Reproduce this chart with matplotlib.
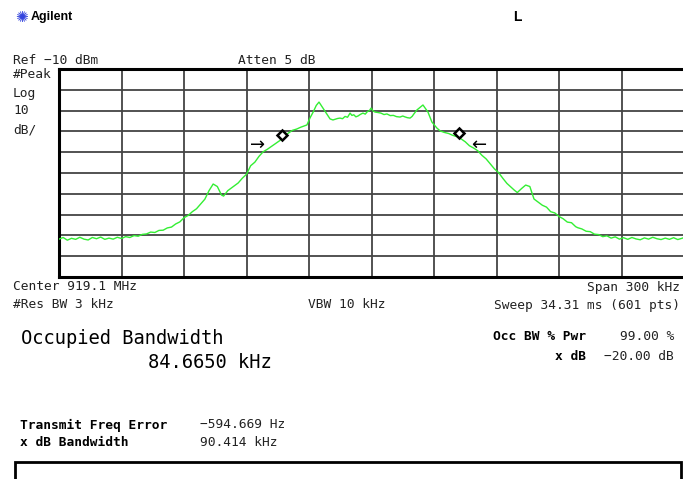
import numpy as np
import matplotlib.pyplot as plt

# analyzer settings
center_mhz = 919.1
span_khz = 300.0
ref_dbm = -10.0
db_per_div = 10.0

# trace: (offset from center in kHz, level in dBm)
trace_pts = [
    (-150, -91.8), (-148, -91.0), (-146, -92.3), (-144, -91.4), (-142, -91.9),
    (-140, -90.9), (-138, -91.8), (-136, -92.2), (-134, -91.0), (-132, -91.6),
    (-130, -90.8), (-128, -91.9), (-126, -91.3), (-124, -91.8), (-122, -90.9),
    (-120, -91.5), (-118, -90.6), (-116, -91.0), (-114, -90.1), (-112, -90.4),
    (-110, -89.5), (-108, -89.3), (-106, -88.4), (-104, -88.6), (-102, -87.6),
    (-100, -87.5), (-98, -86.4), (-96, -86.0), (-94, -84.5), (-92, -83.5),
    (-90, -81.5), (-88, -80.4), (-86, -78.6), (-84, -77.2), (-82, -74.9),
    (-80, -72.6), (-78, -68.5), (-76, -65.3), (-74, -66.5), (-72, -70.6),
    (-71, -71.1), (-69, -68.5), (-67, -67.0), (-66, -66.2), (-64, -64.8),
    (-62, -62.5), (-60, -60.6), (-58, -56.5), (-56, -54.8), (-54, -52.0),
    (-52, -49.8), (-50, -48.6), (-48, -47.2), (-46, -45.8), (-44, -44.4),
    (-42, -41.9), (-40, -40.9), (-38, -39.5), (-36, -38.9), (-34, -38.0),
    (-32, -37.3), (-31, -36.9), (-29.5, -33.5), (-28, -30.7), (-26.5, -27.5),
    (-25.2, -25.9), (-23.3, -28.8), (-21.5, -31.5), (-19.9, -34.0), (-18.5, -34.5),
    (-17.5, -34.2), (-16.3, -33.8), (-15.1, -33.6), (-13.9, -33.9), (-12.7, -32.8),
    (-11.5, -33.2), (-10.3, -31.2), (-9.4, -32.3), (-8.5, -32.0), (-7.5, -33.0),
    (-6.5, -32.6), (-5.3, -31.8), (-4.1, -31.2), (-3, -31.7), (-2, -30.5),
    (-1, -30.0), (-0.2, -28.8), (0.8, -30.2), (1.7, -30.7), (3, -30.9),
    (4.5, -31.2), (6, -31.9), (7.4, -31.6), (9, -32.4), (10.5, -32.3),
    (12, -32.9), (13.7, -33.1), (15, -32.6), (16, -33.0), (17.2, -33.4),
    (18.5, -33.6), (19.5, -32.8), (20.2, -31.8), (21.8, -29.7), (24.7, -27.3),
    (27.1, -30.7), (29, -35.5), (31.4, -38.4), (33, -39.8), (35, -40.5),
    (37, -41.0), (39, -41.9), (41.5, -42.7), (43, -43.6), (45, -45.0),
    (47, -46.9), (49, -48.0), (51, -49.3), (53, -51.5), (55, -53.2),
    (57, -55.6), (59, -58.0), (61, -59.8), (63, -62.5), (65, -65.0),
    (67, -66.8), (68.5, -68.2), (70, -69.4), (72, -67.5), (74, -65.8),
    (76, -66.5), (78, -72.5), (80, -74.0), (82, -75.5), (84, -76.4),
    (86, -78.6), (88, -79.2), (90, -80.9), (92, -82.0), (94, -83.6),
    (96, -83.9), (98, -85.8), (99, -86.3), (101, -86.9), (103, -88.0),
    (105, -88.2), (107, -89.4), (109, -89.6), (111, -90.6), (113, -90.2),
    (115, -91.3), (117, -90.7), (119, -91.8), (121, -91.1), (123, -91.9),
    (125, -91.0), (127, -91.7), (129, -92.1), (131, -91.2), (133, -91.8),
    (135, -90.9), (137, -91.6), (139, -92.0), (141, -91.3), (143, -91.9),
    (145, -91.1), (147, -92.0), (149, -91.4), (150, -91.0),
]

# occupied bandwidth markers and arrows
marker_khz = [-42.9, 41.8]
marker_dbm = [-41.7, -40.9]
arrow_khz = [-54.5, 51.6]
arrow_dbm = [-46.5, -46.5]
arrow_txt = ['\u2192', '\u2190']

mono = 'DejaVu Sans Mono'
W, H = 683, 479
fig = plt.figure(figsize=(W / 100, H / 100), dpi=100)

def fx(px):
    return px / W

def fy(py):
    return 1 - py / H

ax = fig.add_axes([fx(59), fy(277), fx(684) - fx(59), fy(69) - fy(277)])
f0 = center_mhz - span_khz / 2000
f1 = center_mhz + span_khz / 2000
bottom = ref_dbm - 10 * db_per_div
ax.set_xlim(f0, f1)
ax.set_ylim(bottom, ref_dbm)
ax.set_xticks(np.linspace(f0, f1, 11))
ax.set_yticks(np.linspace(bottom, ref_dbm, 11))
ax.tick_params(length=0, labelbottom=False, labelleft=False)
ax.grid(True, color='#444444', lw=1.3)
ax.set_axisbelow(True)
for s in ['top', 'left', 'bottom']:
    ax.spines[s].set_linewidth(2.2)
ax.spines['right'].set_visible(False)

khz = np.array([p[0] for p in trace_pts])
dbm = np.array([p[1] for p in trace_pts])
ax.plot(center_mhz + khz / 1000, dbm, color='#33ee33', lw=1.0, zorder=3)
ax.plot(center_mhz + np.array(marker_khz) / 1000, marker_dbm, 'D', ms=5.5,
        mfc='white', mec='black', mew=1.8, zorder=4)
for k, d, t in zip(arrow_khz, arrow_dbm, arrow_txt):
    ax.text(center_mhz + k / 1000, d, t, ha='center', va='center',
            fontsize=13, family='DejaVu Sans', zorder=5)

# header
fig.text(fx(21), fy(17), '\u273A', color='#3344dd', fontsize=11, ha='center', va='center')
fig.text(fx(31), fy(17), 'Agilent', fontsize=9, weight='bold',
         family='Liberation Sans', va='center')
fig.text(fx(517), fy(17), 'L', fontsize=10, weight='bold',
         family='Liberation Sans', ha='center', va='center')

small = dict(family=mono, fontsize=9.3, va='center', color='#222222')
fig.text(fx(13), fy(60), 'Ref \u221210 dBm', **small)
fig.text(fx(238), fy(60), 'Atten 5 dB', **small)
fig.text(fx(13), fy(75), '#Peak', **small)
fig.text(fx(13), fy(93), 'Log', **small)
fig.text(fx(13), fy(111), '10', **small)
fig.text(fx(13), fy(130), 'dB/', **small)

fig.text(fx(13), fy(287), 'Center 919.1 MHz', **small)
fig.text(fx(680), fy(287), 'Span 300 kHz', ha='right', **small)
fig.text(fx(13), fy(305), '#Res BW 3 kHz', **small)
fig.text(fx(308), fy(305), 'VBW 10 kHz', **small)
fig.text(fx(680), fy(305), 'Sweep 34.31 ms (601 pts)', ha='right', **small)

big = dict(family=mono, fontsize=13.5, va='center', color='black')
fig.text(fx(21), fy(338), 'Occupied Bandwidth', **big)
fig.text(fx(148), fy(362), '84.6650 kHz', **big)

bold = dict(family=mono, fontsize=9.3, weight='bold', va='center')
fig.text(fx(586), fy(337), 'Occ BW % Pwr', ha='right', **bold)
fig.text(fx(674), fy(337), '99.00 %', ha='right', **small)
fig.text(fx(586), fy(356), 'x dB', ha='right', **bold)
fig.text(fx(674), fy(356), '\u221220.00 dB', ha='right', **small)

fig.text(fx(20), fy(425), 'Transmit Freq Error', ha='left', **bold)
fig.text(fx(200), fy(425), '\u2212594.669 Hz', **small)
fig.text(fx(20), fy(443), 'x dB Bandwidth', ha='left', **bold)
fig.text(fx(200), fy(443), '90.414 kHz', **small)

box = plt.Rectangle((fx(15), fy(490)), fx(681) - fx(15), fy(462) - fy(490),
                    transform=fig.transFigure, fill=False, lw=2, ec='black')
fig.add_artist(box)

fig.savefig('out.png', dpi=100)
